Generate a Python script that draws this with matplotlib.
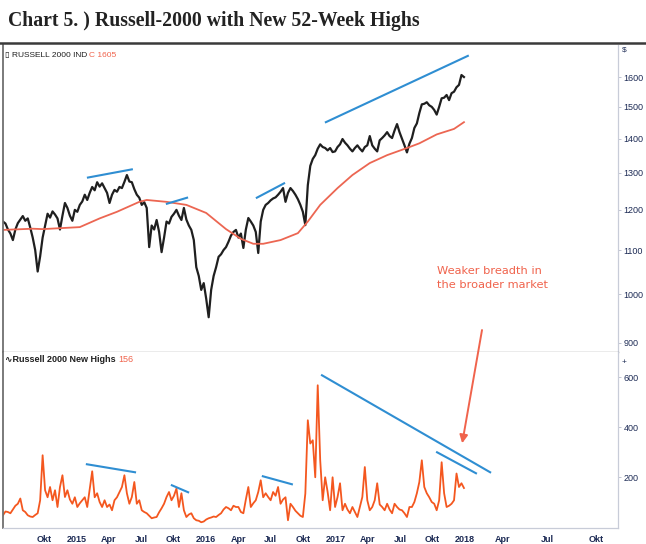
import numpy as np
import pandas as pd
import matplotlib
matplotlib.use("Agg")
import matplotlib.pyplot as plt
import matplotlib.dates as mdates
from matplotlib.lines import Line2D
from matplotlib.ticker import NullLocator

# Russell-2000 weekly closes, plus new 52-week highs.
START = "2014-06-06"

price = [
    1170, 1165, 1150, 1140, 1124, 1150, 1166, 1175, 1184, 1172,
    1178, 1155, 1130, 1100, 1050, 1085, 1130, 1160, 1190, 1180,
    1196, 1188, 1178, 1150, 1185, 1218, 1205, 1185, 1172, 1200,
    1195, 1213, 1222, 1240, 1226, 1245, 1261, 1252, 1274, 1262,
    1271, 1258, 1245, 1218, 1240, 1253, 1248, 1261, 1258, 1275,
    1294, 1276, 1274, 1255, 1240, 1232, 1213, 1220, 1205, 1107,
    1160, 1150, 1174, 1144, 1095, 1130, 1170, 1165, 1182, 1190,
    1200, 1185, 1174, 1205, 1175, 1160, 1149, 1124, 1060, 1040,
    1009, 1024, 990, 951, 1009, 1040, 1060, 1084, 1090, 1100,
    1107, 1120, 1135, 1144, 1149, 1130, 1140, 1105, 1150, 1179,
    1170, 1160, 1144, 1093, 1170, 1200, 1213, 1218, 1225, 1230,
    1233, 1240, 1248, 1258, 1221, 1245, 1258, 1250, 1240, 1228,
    1213, 1195, 1161, 1266, 1320, 1340, 1351, 1370, 1383, 1375,
    1372, 1365, 1372, 1360, 1362, 1375, 1383, 1399, 1388, 1380,
    1370, 1362, 1372, 1380, 1370, 1362, 1375, 1380, 1408, 1380,
    1370, 1362, 1395, 1402, 1410, 1420, 1408, 1402, 1425, 1445,
    1420, 1400, 1380, 1359, 1385, 1402, 1433, 1447, 1480, 1508,
    1510, 1515, 1505, 1500, 1490, 1475, 1500, 1528, 1530, 1539,
    1522, 1545, 1550, 1565, 1573, 1607, 1600,
]

new_highs = [
    47, 62, 60, 55, 70, 85, 93, 114, 67, 60,
    47, 42, 40, 48, 55, 107, 287, 147, 119, 160,
    107, 147, 80, 160, 207, 120, 147, 110, 93, 119,
    80, 95, 107, 119, 80, 150, 223, 119, 135, 100,
    80, 107, 80, 90, 67, 107, 119, 140, 160, 207,
    135, 93, 120, 180, 93, 107, 67, 60, 55, 45,
    35, 38, 40, 59, 75, 93, 120, 140, 107, 125,
    154, 80, 135, 67, 40, 50, 55, 35, 27, 25,
    19, 22, 30, 35, 38, 42, 40, 48, 55, 70,
    80, 75, 67, 85, 80, 80, 60, 55, 110, 160,
    80, 95, 107, 140, 187, 119, 135, 120, 107, 140,
    125, 160, 93, 110, 119, 27, 93, 80, 65, 55,
    45, 40, 134, 427, 334, 347, 199, 567, 267, 107,
    199, 140, 67, 199, 80, 120, 175, 67, 93, 70,
    55, 80, 60, 40, 80, 120, 240, 107, 67, 80,
    107, 175, 90, 80, 67, 93, 70, 55, 93, 80,
    70, 67, 55, 40, 80, 80, 100, 135, 180, 267,
    160, 135, 119, 100, 93, 67, 107, 259, 135, 80,
    85, 93, 107, 214, 160, 175, 156,
]

# 200-day average, sampled at a few weeks only
ma_week = [0, 12, 16, 31, 39, 46, 55, 58, 66, 74, 82, 90, 96, 101, 105, 112,
           119, 123, 128, 135, 141, 148, 155, 163, 168, 175, 182, 186]
ma_value = [1149, 1152, 1151, 1156, 1178, 1195, 1221, 1226, 1221, 1213, 1192,
            1151, 1127, 1115, 1115, 1124, 1141, 1170, 1213, 1258, 1294, 1328,
            1351, 1372, 1386, 1413, 1430, 1451]

# hand-drawn trend lines: (start date, start value, end date, end value)
price_trends = [
    ("2015-02-01", 1287, "2015-06-05", 1310),
    ("2015-09-12", 1216, "2015-11-08", 1232),
    ("2016-05-23", 1232, "2016-08-08", 1271),
    ("2016-12-04", 1451, "2018-01-09", 1675),
]
highs_trends = [
    ("2015-01-29", 251, "2015-06-14", 219),
    ("2015-09-26", 167, "2015-11-11", 139),
    ("2016-06-09", 203, "2016-08-30", 171),
    ("2016-11-23", 607, "2018-03-13", 219),
    ("2017-10-14", 299, "2018-02-01", 215),
]

tick_dates = ["2014-10-01", "2015-01-01", "2015-04-01", "2015-07-01", "2015-10-01",
              "2016-01-01", "2016-04-01", "2016-07-01", "2016-10-01",
              "2017-01-01", "2017-04-01", "2017-07-01", "2017-10-01",
              "2018-01-01", "2018-04-18", "2018-08-21", "2019-01-06"]
tick_labels = ["Okt", "2015", "Apr", "Jul", "Okt", "2016", "Apr", "Jul", "Okt",
               "2017", "Apr", "Jul", "Okt", "2018", "Apr", "Jul", "Okt"]

price_ticks = [900, 1000, 1100, 1200, 1300, 1400, 1500, 1600]
highs_ticks = [200, 400, 600]

BLACK = "#1f1f1f"
MA_RED = "#ec6652"
HIGHS = "#f4571f"
BLUE = "#2f8ed2"
NAVY = "#1d2b55"
NOTE = "#f0634c"
SANS = ["Liberation Sans", "DejaVu Sans"]

assert len(price) == len(new_highs)
dates = pd.date_range(START, periods=len(price), freq="7D")
ma_dates = dates[ma_week]
xlim = (pd.Timestamp("2014-06-06"), pd.Timestamp("2019-03-09"))

fig = plt.figure(figsize=(6.46, 5.44), dpi=100)
ax1 = fig.add_axes([0.0046, 0.3529, 0.952, 0.5644])
ax2 = fig.add_axes([0.0046, 0.0294, 0.952, 0.3235])

# price panel
ax1.plot(dates, price, color=BLACK, lw=1.6)
ax1.plot(ma_dates, ma_value, color=MA_RED, lw=1.3)
for (d0, v0, d1, v1) in price_trends:
    ax1.plot([pd.Timestamp(d0), pd.Timestamp(d1)], [v0, v1], color=BLUE, lw=1.5)
ax1.set_yscale("log")
ax1.set_ylim(882, 1715)
ax1.set_xlim(*xlim)
ax1.yaxis.tick_right()
ax1.yaxis.set_minor_locator(NullLocator())
ax1.set_yticks(price_ticks)
ax1.set_yticklabels([str(t) for t in price_ticks])
ax1.tick_params(axis="x", bottom=False, labelbottom=False)

# new highs panel
ax2.plot(dates, new_highs, color=HIGHS, lw=1.3)
for (d0, v0, d1, v1) in highs_trends:
    ax2.plot([pd.Timestamp(d0), pd.Timestamp(d1)], [v0, v1], color=BLUE, lw=1.5)
ax2.set_ylim(-4, 700)
ax2.set_xlim(*xlim)
ax2.yaxis.tick_right()
ax2.set_yticks(highs_ticks)
ax2.set_yticklabels([str(t) for t in highs_ticks])
ax2.set_xticks([pd.Timestamp(d) for d in tick_dates])
ax2.set_xticklabels(tick_labels)

for ax in (ax1, ax2):
    ax.tick_params(axis="y", length=2, width=0.6, color="#b8bccb", pad=2,
                   labelsize=6.5, labelcolor=NAVY)
    for lab in ax.get_yticklabels():
        lab.set_family(SANS)
    ax.spines["left"].set_color("#6f6f6f")
    ax.spines["left"].set_linewidth(1.3)
    ax.spines["right"].set_color("#c8ccd8")
    ax.spines["right"].set_linewidth(0.9)
    ax.spines["top"].set_visible(False)
ax1.spines["bottom"].set_color("#9a9a9a")
ax1.spines["bottom"].set_linewidth(1.0)
ax2.spines["bottom"].set_color("#c8ccd8")
ax2.spines["bottom"].set_linewidth(0.9)
ax2.tick_params(axis="x", length=0, pad=5, labelsize=6.5, labelcolor=NAVY)
for lab in ax2.get_xticklabels():
    lab.set_family(SANS)
    lab.set_fontweight("bold")

# series labels
t1 = ax1.text(0.003, 0.967, "\u25af RUSSELL 2000 IND ", transform=ax1.transAxes,
              fontsize=6, color=BLACK, va="center", ha="left", family=SANS)
ax1.annotate("C 1605", xy=(1, 0), xycoords=t1, va="bottom", ha="left",
             fontsize=6, color=NOTE, family=SANS)
t2 = ax2.text(0.003, 0.955, "\u223fRussell 2000 New Highs ", transform=ax2.transAxes,
              fontsize=6.5, color=BLACK, va="center", ha="left",
              family=SANS, fontweight="bold")
ax2.annotate("156", xy=(1, 0), xycoords=t2, va="bottom", ha="left",
             fontsize=6.5, color=NOTE, family=SANS)
ax1.text(1.006, 0.984, "$", transform=ax1.transAxes, fontsize=6, color=NAVY,
         va="center", ha="left", family=SANS)
ax2.text(1.006, 0.94, "+", transform=ax2.transAxes, fontsize=6, color=NAVY,
         va="center", ha="left", family=SANS)

# comment and arrow
ax1.text(pd.Timestamp("2017-10-14"), 1035, "Weaker breadth in\nthe broader market",
         color=NOTE, fontsize=8.2, ha="left", va="center", linespacing=1.45)
ax2.annotate("", xy=(mdates.date2num(pd.Timestamp("2017-12-24")), 335),
             xytext=(mdates.date2num(pd.Timestamp("2018-02-18")), 925),
             textcoords=ax1.transData,
             arrowprops=dict(arrowstyle="-|>", color=NOTE, lw=1.4, mutation_scale=12,
                             shrinkA=0, shrinkB=0))

# title and frame
fig.text(8 / 646, 1 - 21 / 544, "Chart 5. ) Russell-2000 with New 52-Week Highs",
         fontsize=14.2, fontweight="bold", family="Liberation Serif", color="#222222",
         va="center", ha="left")
fig.add_artist(Line2D([0, 1], [1 - 43 / 544, 1 - 43 / 544], transform=fig.transFigure,
                      color="#3a3a3a", lw=1.8))

fig.savefig("out.png", dpi=100, facecolor="white")
plt.close(fig)
